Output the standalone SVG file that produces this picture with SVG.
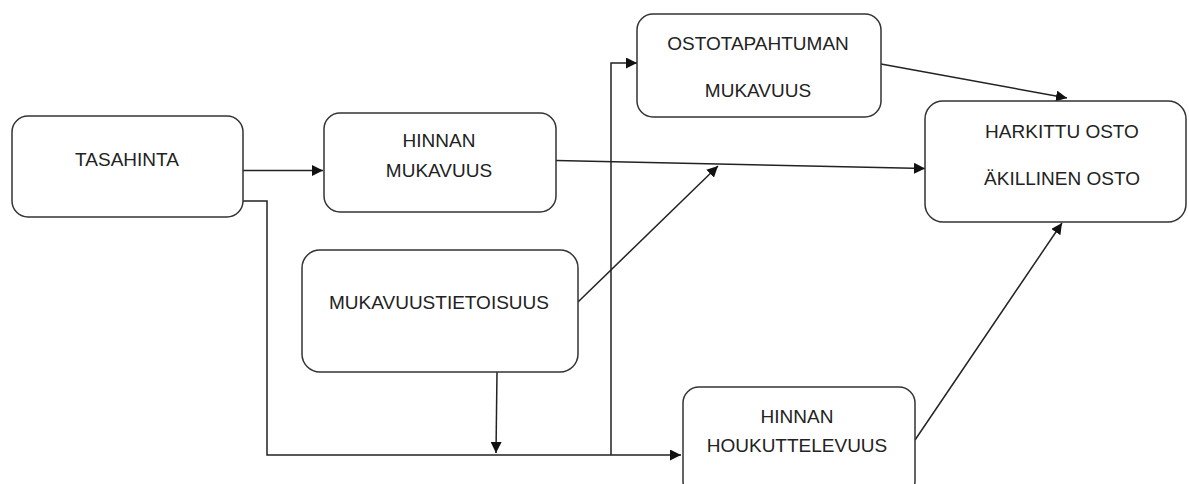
<svg xmlns="http://www.w3.org/2000/svg" width="1189" height="484" viewBox="0 0 1189 484">
<style>
.box{fill:#fff;stroke:#333;stroke-width:1.5}
.t{font-family:"Liberation Sans",Arial,sans-serif;font-size:19px;fill:#222;text-anchor:middle}
.c{fill:none;stroke:#222;stroke-width:1.5}
</style>
<defs>
<marker id="ah" viewBox="0 0 10 10" refX="10" refY="5" markerWidth="11" markerHeight="11" markerUnits="userSpaceOnUse" orient="auto">
<path d="M0,0 L10,5 L0,10 Z" fill="#111"/>
</marker>
</defs>
<rect width="1189" height="484" fill="#fff"/>
<g id="connectors">
<path class="c" d="M243,170.5 H323" marker-end="url(#ah)"/>
<path class="c" d="M243,201 H267 V455 H681" marker-end="url(#ah)"/>
<path class="c" d="M611,455 V63 H637" marker-end="url(#ah)"/>
<path class="c" d="M556,160.5 L925,168.5" marker-end="url(#ah)"/>
<path class="c" d="M881,64 L1067,98" marker-end="url(#ah)"/>
<path class="c" d="M578,302 L718,166" marker-end="url(#ah)"/>
<path class="c" d="M497,372 L496,453" marker-end="url(#ah)"/>
<path class="c" d="M915,440 L1062,223" marker-end="url(#ah)"/>
</g>
<g id="tasahinta">
<rect class="box" x="12" y="116" width="231" height="101" rx="16"/>
<text class="t" x="127" y="166">TASAHINTA</text>
</g>
<g id="hinnan-mukavuus">
<rect class="box" x="324" y="113" width="232" height="99" rx="16"/>
<text class="t" x="439" y="147">HINNAN</text>
<text class="t" x="439" y="177">MUKAVUUS</text>
</g>
<g id="ostotapahtuman-mukavuus">
<rect class="box" x="637" y="14" width="244" height="103" rx="16"/>
<text class="t" x="758" y="50">OSTOTAPAHTUMAN</text>
<text class="t" x="758" y="97">MUKAVUUS</text>
</g>
<g id="harkittu-osto">
<rect class="box" x="925" y="101" width="261" height="121" rx="18"/>
<text class="t" x="1062" y="138">HARKITTU OSTO</text>
<text class="t" x="1062" y="185">ÄKILLINEN OSTO</text>
</g>
<g id="mukavuustietoisuus">
<rect class="box" x="302" y="250" width="276" height="122" rx="18"/>
<text class="t" x="439" y="309">MUKAVUUSTIETOISUUS</text>
</g>
<g id="hinnan-houkuttelevuus">
<rect class="box" x="683" y="387" width="232" height="110" rx="16"/>
<text class="t" x="797" y="423">HINNAN</text>
<text class="t" x="797" y="452">HOUKUTTELEVUUS</text>
</g>
</svg>
